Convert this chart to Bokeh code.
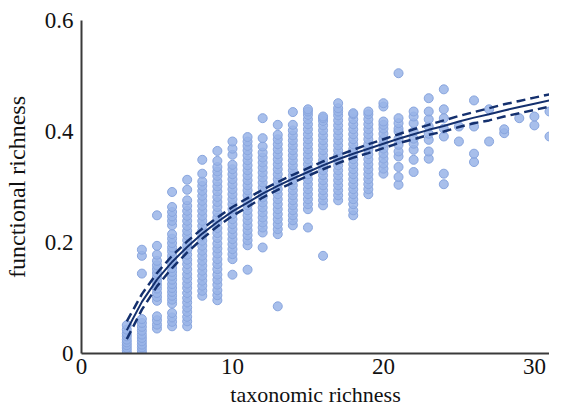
from bokeh.plotting import figure
from bokeh.models import Range1d, FixedTicker, CustomJSTickFormatter, ColumnDataSource
from bokeh.embed import file_html
from bokeh.resources import INLINE

# ---- data: functional richness values per taxonomic richness ----
col3 = [0.0, 0.005, 0.01, 0.015, 0.02, 0.025, 0.031, 0.036, 0.043, 0.051]
col4 = [0.0, 0.005, 0.011, 0.016, 0.022, 0.028, 0.034, 0.041, 0.048, 0.055, 0.062, 0.144, 0.176, 0.187]
col5 = [0.045, 0.052, 0.06, 0.067, 0.095, 0.102, 0.109, 0.117, 0.124, 0.131, 0.138, 0.145,
        0.152, 0.159, 0.167, 0.178, 0.194, 0.249]
col6 = [0.049, 0.057, 0.065, 0.073, 0.09, 0.097, 0.104, 0.111, 0.118, 0.125, 0.133, 0.14, 0.147,
        0.154, 0.161, 0.169, 0.176, 0.184, 0.191, 0.199, 0.207, 0.215, 0.231, 0.239, 0.247, 0.255,
        0.264, 0.291]
col7 = [0.049, 0.058, 0.066, 0.075, 0.083, 0.092, 0.1, 0.109, 0.118, 0.126, 0.135, 0.143, 0.152,
        0.161, 0.169, 0.178, 0.187, 0.195, 0.204, 0.213, 0.221, 0.23, 0.239, 0.248, 0.257, 0.266,
        0.276, 0.295, 0.313]
col8 = [0.104, 0.113, 0.122, 0.131, 0.14, 0.149, 0.158, 0.167, 0.176, 0.185, 0.194, 0.203, 0.212,
        0.221, 0.23, 0.239, 0.248, 0.257, 0.266, 0.275, 0.284, 0.293, 0.302, 0.31, 0.324, 0.349]
col9 = [0.096, 0.105, 0.114, 0.124, 0.133, 0.142, 0.152, 0.161, 0.17, 0.18, 0.189, 0.198, 0.208,
        0.217, 0.226, 0.236, 0.245, 0.254, 0.264, 0.273, 0.282, 0.292, 0.301, 0.31, 0.32, 0.328,
        0.336, 0.347, 0.365]
col10 = [0.142, 0.17, 0.179, 0.188, 0.197, 0.206, 0.215, 0.224, 0.233, 0.242, 0.251, 0.26, 0.269,
         0.278, 0.287, 0.296, 0.305, 0.314, 0.323, 0.332, 0.34, 0.358, 0.369, 0.382]
col11 = [0.151, 0.195, 0.204, 0.213, 0.222, 0.231, 0.24, 0.249, 0.258, 0.267, 0.276, 0.285,
         0.294, 0.303, 0.312, 0.321, 0.33, 0.339, 0.348, 0.357, 0.366, 0.374, 0.382, 0.39]
col12 = [0.191, 0.218, 0.227, 0.236, 0.245, 0.254, 0.263, 0.272, 0.281, 0.29, 0.299, 0.308,
         0.317, 0.326, 0.335, 0.344, 0.353, 0.362, 0.373, 0.388, 0.424]
col13 = [0.085, 0.215, 0.224, 0.233, 0.242, 0.251, 0.26, 0.269, 0.278, 0.287, 0.296, 0.305,
         0.314, 0.323, 0.332, 0.341, 0.35, 0.359, 0.368, 0.377, 0.386, 0.394, 0.412]
col14 = [0.231, 0.24, 0.249, 0.258, 0.267, 0.276, 0.285, 0.294, 0.303, 0.312, 0.321, 0.33,
         0.339, 0.348, 0.357, 0.366, 0.375, 0.384, 0.393, 0.402, 0.412, 0.435]
col15 = [0.227, 0.26, 0.269, 0.278, 0.287, 0.296, 0.305, 0.314, 0.323, 0.332, 0.341, 0.35,
         0.359, 0.368, 0.377, 0.386, 0.395, 0.404, 0.413, 0.422, 0.43, 0.436, 0.44]
col16 = [0.176, 0.267, 0.276, 0.285, 0.294, 0.303, 0.312, 0.321, 0.33, 0.339, 0.348, 0.357,
         0.366, 0.375, 0.384, 0.393, 0.402, 0.411, 0.419, 0.424, 0.427]
col17 = [0.276, 0.285, 0.294, 0.303, 0.312, 0.321, 0.33, 0.339, 0.348, 0.357, 0.366, 0.375,
         0.384, 0.393, 0.402, 0.411, 0.42, 0.429, 0.436, 0.442, 0.451]
col18 = [0.249, 0.258, 0.269, 0.278, 0.287, 0.296, 0.305, 0.314, 0.323, 0.332, 0.341, 0.35,
         0.359, 0.368, 0.377, 0.386, 0.395, 0.404, 0.413, 0.422, 0.431, 0.433]
col19 = [0.287, 0.296, 0.305, 0.314, 0.323, 0.332, 0.341, 0.35, 0.359, 0.368, 0.377, 0.386,
         0.395, 0.404, 0.413, 0.422, 0.431, 0.436]
col20 = [0.324, 0.333, 0.342, 0.351, 0.36, 0.369, 0.378, 0.387, 0.396, 0.405, 0.412, 0.418,
         0.445, 0.451]
col21 = [0.304, 0.318, 0.336, 0.355, 0.364, 0.376, 0.387, 0.4, 0.405, 0.415, 0.424, 0.505]
col22 = [0.327, 0.349, 0.367, 0.378, 0.387, 0.4, 0.415, 0.427, 0.436]
col23 = [0.351, 0.364, 0.385, 0.396, 0.409, 0.422, 0.436, 0.46]
col24 = [0.305, 0.324, 0.391, 0.405, 0.424, 0.44, 0.476]
col25 = [0.382, 0.409]
col26 = [0.345, 0.36, 0.409, 0.456]
col27 = [0.382, 0.44]
col28 = [0.397, 0.404]
col29 = [0.424]
col30 = [0.411, 0.427]
col31 = [0.391, 0.436]

columns = {3: col3, 4: col4, 5: col5, 6: col6, 7: col7, 8: col8, 9: col9, 10: col10,
           11: col11, 12: col12, 13: col13, 14: col14, 15: col15, 16: col16, 17: col17,
           18: col18, 19: col19, 20: col20, 21: col21, 22: col22, 23: col23, 24: col24,
           25: col25, 26: col26, 27: col27, 28: col28, 29: col29, 30: col30, 31: col31}

# fitted curve and its confidence band
fit_x = [3, 4, 5, 6, 7, 8, 9, 10, 11, 12, 13, 14, 15, 16, 17, 18, 19, 20, 21, 22, 23, 24, 25,
         26, 27, 28, 29, 30, 31]
fit_y = [0.042, 0.093, 0.133, 0.165, 0.192, 0.216, 0.237, 0.256, 0.272, 0.288, 0.302, 0.315,
         0.327, 0.339, 0.35, 0.36, 0.369, 0.378, 0.387, 0.395, 0.403, 0.41, 0.418, 0.425, 0.431,
         0.438, 0.444, 0.45, 0.456]
fit_hi = [0.058, 0.107, 0.145, 0.176, 0.202, 0.225, 0.245, 0.264, 0.28, 0.295, 0.309, 0.322,
          0.334, 0.346, 0.357, 0.367, 0.377, 0.386, 0.395, 0.404, 0.412, 0.42, 0.428, 0.435,
          0.442, 0.449, 0.455, 0.461, 0.467]
fit_lo = [0.026, 0.079, 0.121, 0.154, 0.182, 0.207, 0.229, 0.248, 0.264, 0.281, 0.295, 0.308,
          0.32, 0.332, 0.343, 0.353, 0.361, 0.37, 0.379, 0.386, 0.394, 0.4, 0.408, 0.415, 0.42,
          0.427, 0.433, 0.439, 0.445]

x_ticks = [0, 10, 20, 30]
y_ticks = [0, 0.2, 0.4, 0.6]
x_title = "taxonomic richness"
y_title = "functional richness"

xs, ys = [], []
for k, vals in columns.items():
    xs.extend([k] * len(vals))
    ys.extend(vals)
src = ColumnDataSource(dict(x=xs, y=ys))

FONT = "Liberation Serif"

p = figure(width=549, height=409, output_backend="svg", toolbar_location=None,
           x_range=Range1d(0, 31.0), y_range=Range1d(0, 0.6),
           min_border_left=75, min_border_right=0, min_border_top=20, min_border_bottom=54)
p.outline_line_color = None
p.grid.visible = False
p.background_fill_color = "white"

p.scatter("x", "y", source=src, size=9, fill_color="#99b4e7", fill_alpha=0.85,
          line_color="#88a5de", line_width=1)

p.line(fit_x, fit_hi, line_color="#14306e", line_width=2.5, line_dash="9 5")
p.line(fit_x, fit_lo, line_color="#14306e", line_width=2.5, line_dash="9 5")
p.line(fit_x, fit_y, line_color="#14306e", line_width=2)

p.xaxis.ticker = FixedTicker(ticks=x_ticks)
p.yaxis.ticker = FixedTicker(ticks=y_ticks)
p.yaxis.formatter = CustomJSTickFormatter(code="return tick == 0 ? '0' : tick.toFixed(1);")
p.xaxis.axis_label = x_title
p.yaxis.axis_label = y_title

for ax in (p.xaxis, p.yaxis):
    ax.axis_line_color = "#3a3a3a"
    ax.axis_line_width = 2
    ax.major_tick_line_color = None
    ax.minor_tick_line_color = None
    ax.major_tick_out = 0
    ax.major_tick_in = 0
    ax.major_label_text_font = FONT
    ax.major_label_text_font_size = "23px"
    ax.major_label_text_color = "#111111"
    ax.axis_label_text_font = FONT
    ax.axis_label_text_font_style = "normal"
    ax.axis_label_text_color = "#111111"
p.xaxis.axis_label_text_font_size = "22px"
p.yaxis.axis_label_text_font_size = "24px"
p.xaxis.major_label_standoff = 5
p.yaxis.major_label_standoff = 8
p.xaxis.axis_label_standoff = 5
p.yaxis.axis_label_standoff = 12

open("out.html", "w").write(file_html(p, INLINE))
